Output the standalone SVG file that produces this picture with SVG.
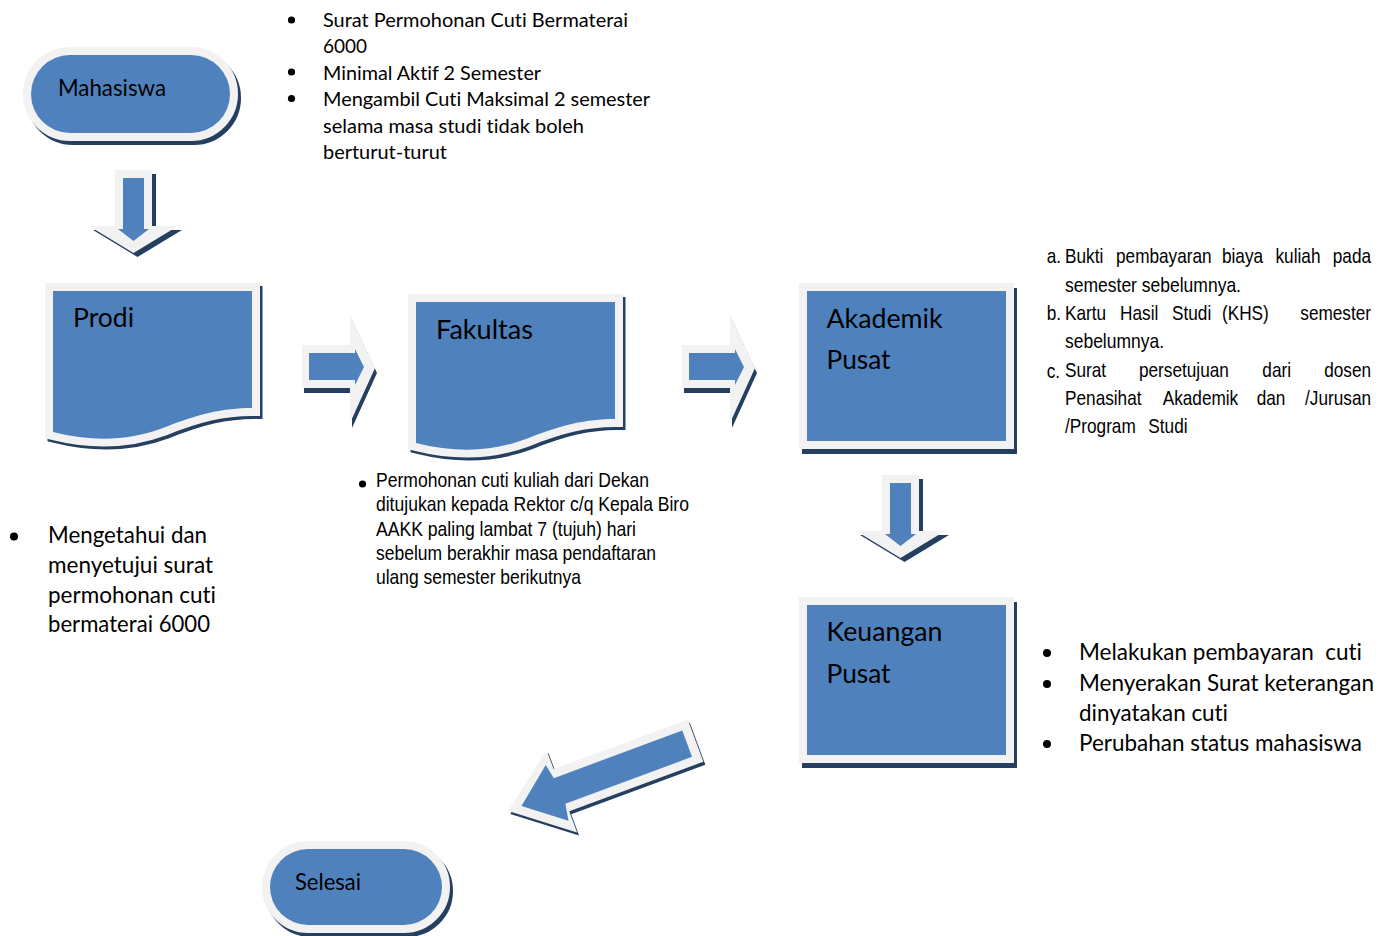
<svg xmlns="http://www.w3.org/2000/svg" xmlns:xlink="http://www.w3.org/1999/xlink" width="1388" height="936" viewBox="0 0 1388 936">
<style>
.shape{fill:#4F81BD;stroke:#F2F2F2;stroke-width:16;paint-order:stroke;stroke-linejoin:miter}
.shadow{fill:#243F60;stroke:#243F60;stroke-width:16;stroke-linejoin:miter}
.aout{fill:#F2F2F2}
.ash{fill:#243F60}
.ain{fill:#4F81BD}
.cal{font-family:Lato,"Open Sans","Noto Sans",sans-serif;fill:#000;font-variant-ligatures:none;font-feature-settings:"liga" 0,"clig" 0;white-space:pre}
.nar{font-family:"Liberation Sans",Arial,sans-serif;font-size:21px;fill:#000}
.dot{fill:#000}
</style>
<defs>
<path id="doc" d="M0,0 H199 V117 C170,117 145,123 110,137 C75,150 40,151 0,141 Z"/>
<polygon id="rOut" points="0,0 48,0 48,-30 73,23 48,78 48,43 0,43"/>
<polygon id="rIn" points="7,8 53,8 53,4 62,22 53,40 53,35 7,35"/>
<polygon id="dOut" points="0,0 37,0 37,56 63,56 18.5,83 -26,56 0,56"/>
<polygon id="dIn" points="8,8 29,8 29,59 34,59 18.5,71 3,59 8,59"/>
</defs>
<rect width="1388" height="936" fill="#FFFFFF"/>

<g id="connectors">
<g id="arrow-mahasiswa-prodi" transform="translate(115,170)">
<use xlink:href="#dOut" class="ash" transform="translate(4,4)"/>
<use xlink:href="#dOut" class="aout"/>
<use xlink:href="#dIn" class="ain"/>
</g>
<g id="arrow-prodi-fakultas" transform="translate(302,345)">
<use xlink:href="#rOut" class="ash" transform="translate(2,5)"/>
<use xlink:href="#rOut" class="aout"/>
<use xlink:href="#rIn" class="ain"/>
</g>
<g id="arrow-fakultas-akademik" transform="translate(682,345)">
<use xlink:href="#rOut" class="ash" transform="translate(2,5)"/>
<use xlink:href="#rOut" class="aout"/>
<use xlink:href="#rIn" class="ain"/>
</g>
<g id="arrow-akademik-keuangan" transform="translate(882,475)">
<use xlink:href="#dOut" class="ash" transform="translate(4,4)"/>
<use xlink:href="#dOut" class="aout"/>
<use xlink:href="#dIn" class="ain"/>
</g>
<g id="arrow-keuangan-selesai" transform="translate(508,810) rotate(-20.3)">
<polygon class="ash" transform="translate(0.8,3.5)" points="0,1 57,-43 57,-22.5 200,-22.5 200,22.5 57,22.5 57,45"/>
<polygon class="aout" points="0,1 57,-43 57,-22.5 200,-22.5 200,22.5 57,22.5 57,45"/>
<polygon class="ain" points="14,1 51,-29 54,-14 191,-14 191,14 56,14 53,31"/>
</g>
</g>

<g id="node-mahasiswa">
<rect class="shadow" x="34" y="59" width="199" height="78" rx="39"/>
<rect class="shape" x="31" y="55" width="199" height="78" rx="39"/>
<text class="cal" x="58" y="96" font-size="22.5" textLength="108" lengthAdjust="spacingAndGlyphs">Mahasiswa</text>
</g>

<g id="node-prodi">
<use xlink:href="#doc" class="shadow" transform="translate(55.5,294)"/>
<use xlink:href="#doc" class="shape" transform="translate(53,291)"/>
<text class="cal" x="73" y="327" font-size="27.5" textLength="61" lengthAdjust="spacingAndGlyphs">Prodi</text>
</g>

<g id="node-fakultas">
<use xlink:href="#doc" class="shadow" transform="translate(418.5,305)"/>
<use xlink:href="#doc" class="shape" transform="translate(416,302)"/>
<text class="cal" x="436" y="339" font-size="27.5" textLength="97" lengthAdjust="spacingAndGlyphs">Fakultas</text>
</g>

<g id="node-akademik">
<rect class="shadow" x="810" y="296" width="199" height="150"/>
<rect class="shape" x="807" y="291" width="199" height="150"/>
<text class="cal" x="826.5" y="328" font-size="27.5" textLength="116" lengthAdjust="spacingAndGlyphs">Akademik</text>
<text class="cal" x="826.5" y="369" font-size="27.5" textLength="64" lengthAdjust="spacingAndGlyphs">Pusat</text>
</g>

<g id="node-keuangan">
<rect class="shadow" x="810" y="610" width="199" height="150"/>
<rect class="shape" x="807" y="605" width="199" height="150"/>
<text class="cal" x="826.5" y="641" font-size="27.5" textLength="116" lengthAdjust="spacingAndGlyphs">Keuangan</text>
<text class="cal" x="826.5" y="683" font-size="27.5" textLength="64" lengthAdjust="spacingAndGlyphs">Pusat</text>
</g>

<g id="node-selesai">
<rect class="shadow" x="273" y="853" width="172" height="76" rx="38"/>
<rect class="shape" x="270" y="849" width="172" height="76" rx="38"/>
<text class="cal" x="295" y="890" font-size="22.5" textLength="66" lengthAdjust="spacingAndGlyphs">Selesai</text>
</g>

<g id="note-mahasiswa">
<circle class="dot" cx="291.5" cy="20" r="3.6"/>
<circle class="dot" cx="291.5" cy="72" r="3.6"/>
<circle class="dot" cx="291.5" cy="98.5" r="3.6"/>
<text class="cal" font-size="20" x="323" y="26.5" textLength="305" lengthAdjust="spacingAndGlyphs">Surat Permohonan Cuti Bermaterai</text>
<text class="cal" font-size="20" x="323" y="53" textLength="44" lengthAdjust="spacingAndGlyphs">6000</text>
<text class="cal" font-size="20" x="323" y="79.5" textLength="218" lengthAdjust="spacingAndGlyphs">Minimal Aktif 2 Semester</text>
<text class="cal" font-size="20" x="323" y="106" textLength="327" lengthAdjust="spacingAndGlyphs">Mengambil Cuti Maksimal 2 semester</text>
<text class="cal" font-size="20" x="323" y="132.5" textLength="261" lengthAdjust="spacingAndGlyphs">selama masa studi tidak boleh</text>
<text class="cal" font-size="20" x="323" y="159" textLength="124" lengthAdjust="spacingAndGlyphs">berturut-turut</text>
</g>

<g id="note-prodi">
<circle class="dot" cx="14" cy="536.5" r="4"/>
<text class="cal" font-size="22.5" x="48" y="543" textLength="159" lengthAdjust="spacingAndGlyphs">Mengetahui dan</text>
<text class="cal" font-size="22.5" x="48" y="573" textLength="165" lengthAdjust="spacingAndGlyphs">menyetujui surat</text>
<text class="cal" font-size="22.5" x="48" y="602.5" textLength="168" lengthAdjust="spacingAndGlyphs">permohonan cuti</text>
<text class="cal" font-size="22.5" x="48" y="631.5" textLength="162" lengthAdjust="spacingAndGlyphs">bermaterai 6000</text>
</g>

<g id="note-fakultas">
<circle class="dot" cx="362.5" cy="484" r="3.6"/>
<g transform="scale(0.82 1)">
<text class="nar" x="458.5" y="487" textLength="333" lengthAdjust="spacingAndGlyphs">Permohonan cuti kuliah dari Dekan</text>
<text class="nar" x="458.5" y="511.3" textLength="381.7" lengthAdjust="spacingAndGlyphs">ditujukan kepada Rektor c/q Kepala Biro</text>
<text class="nar" x="458.5" y="535.6" textLength="317.1" lengthAdjust="spacingAndGlyphs">AAKK paling lambat 7 (tujuh) hari</text>
<text class="nar" x="458.5" y="559.9" textLength="341.5" lengthAdjust="spacingAndGlyphs">sebelum berakhir masa pendaftaran</text>
<text class="nar" x="458.5" y="584.2" textLength="250" lengthAdjust="spacingAndGlyphs">ulang semester berikutnya</text>
</g>
</g>

<g id="note-akademik">
<g transform="scale(0.82 1)">
<text class="nar" x="1276.5" y="263.3">a.</text>
<text class="nar" x="1298.8" y="263.3">Bukti</text>
<text class="nar" x="1361" y="263.3">pembayaran</text>
<text class="nar" x="1490.2" y="263.3">biaya</text>
<text class="nar" x="1555.5" y="263.3">kuliah</text>
<text class="nar" x="1672" y="263.3" text-anchor="end">pada</text>
<text class="nar" x="1298.8" y="291.7" textLength="214.6" lengthAdjust="spacingAndGlyphs">semester sebelumnya.</text>
<text class="nar" x="1276.5" y="320">b.</text>
<text class="nar" x="1298.8" y="320">Kartu</text>
<text class="nar" x="1365.9" y="320">Hasil</text>
<text class="nar" x="1429.3" y="320">Studi</text>
<text class="nar" x="1490.2" y="320">(KHS)</text>
<text class="nar" x="1672" y="320" text-anchor="end">semester</text>
<text class="nar" x="1298.8" y="348.3" textLength="120.7" lengthAdjust="spacingAndGlyphs">sebelumnya.</text>
<text class="nar" x="1276.5" y="378">c.</text>
<text class="nar" x="1298.8" y="376.7">Surat</text>
<text class="nar" x="1389" y="376.7">persetujuan</text>
<text class="nar" x="1539.4" y="376.7">dari</text>
<text class="nar" x="1672" y="376.7" text-anchor="end">dosen</text>
<text class="nar" x="1298.8" y="405">Penasihat</text>
<text class="nar" x="1417.9" y="405">Akademik</text>
<text class="nar" x="1532.6" y="405">dan</text>
<text class="nar" x="1672" y="405" text-anchor="end">/Jurusan</text>
<text class="nar" x="1298.8" y="433.3">/Program</text>
<text class="nar" x="1400.4" y="433.3">Studi</text>
</g>
</g>

<g id="note-keuangan">
<circle class="dot" cx="1047" cy="653" r="4"/>
<circle class="dot" cx="1047" cy="684" r="4"/>
<circle class="dot" cx="1047" cy="744" r="4"/>
<text class="cal" font-size="22.5" x="1079" y="660" textLength="283" lengthAdjust="spacingAndGlyphs" xml:space="preserve">Melakukan pembayaran  cuti</text>
<text class="cal" font-size="22.5" x="1079" y="690.5" textLength="295" lengthAdjust="spacingAndGlyphs">Menyerakan Surat keterangan</text>
<text class="cal" font-size="22.5" x="1079" y="720.5" textLength="149" lengthAdjust="spacingAndGlyphs">dinyatakan cuti</text>
<text class="cal" font-size="22.5" x="1079" y="751" textLength="283" lengthAdjust="spacingAndGlyphs">Perubahan status mahasiswa</text>
</g>
</svg>
